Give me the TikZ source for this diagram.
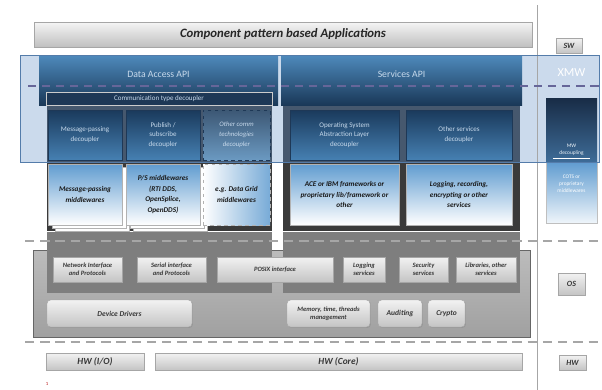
\documentclass[tikz,border=0pt]{standalone}
\usepackage{fontspec}
\setmainfont{Carlito}
\usetikzlibrary{shadows}
\definecolor{bandblue}{RGB}{203,218,236}
\definecolor{bandline}{RGB}{84,124,170}
\definecolor{hdrtop}{RGB}{78,138,188}
\definecolor{hdrbot}{RGB}{26,56,88}
\definecolor{commbar}{RGB}{30,56,86}
\definecolor{decdark}{RGB}{26,58,92}
\definecolor{declight}{RGB}{70,128,178}
\definecolor{dectext}{RGB}{200,218,236}
\definecolor{mwblue}{RGB}{96,156,208}
\definecolor{slate}{RGB}{70,88,110}
\definecolor{darkframe}{RGB}{58,58,58}
\definecolor{column}{RGB}{126,126,126}
\definecolor{ostop}{RGB}{188,188,188}
\definecolor{osbot}{RGB}{160,160,160}
\definecolor{boxtop}{RGB}{242,242,242}
\definecolor{boxbot}{RGB}{196,196,196}
\definecolor{boxtext}{RGB}{55,55,55}
\definecolor{dashgrey}{RGB}{166,166,166}
\definecolor{mwtop}{RGB}{24,44,70}
\definecolor{mwmid}{RGB}{62,108,152}
\begin{document}
\begin{tikzpicture}[x=0.03cm,y=-0.03cm,
  wh/.style 2 args={minimum width=#1*0.03cm,minimum height=#2*0.03cm}]
\tikzstyle{greybox}=[draw=gray!70,top color=boxtop,bottom color=boxbot,inner sep=1pt,outer sep=0pt,align=center,
  drop shadow={opacity=0.35,shadow xshift=0.8pt,shadow yshift=-0.8pt},
  text=boxtext,font=\fontsize{5.6}{6.8}\selectfont\bfseries\itshape]
\tikzstyle{roundbox}=[greybox,rounded corners=3pt]
\tikzstyle{hwbox}=[greybox,font=\fontsize{8}{9}\selectfont\bfseries\itshape]
\tikzstyle{tagbox}=[greybox,font=\fontsize{6.8}{8}\selectfont\bfseries\itshape]
\tikzstyle{hdr}=[top color=hdrtop,bottom color=hdrbot,inner sep=0pt,outer sep=0pt]
\tikzstyle{hdrtext}=[text=dectext,font=\fontsize{8.3}{10}\selectfont]
\tikzstyle{dec}=[draw=commbar,line width=0.4pt,top color=decdark,bottom color=declight,inner sep=1pt,outer sep=0pt,
  align=center,text=dectext,font=\fontsize{6}{8.4}\selectfont]
\tikzstyle{mw}=[draw=gray!60,top color=mwblue,bottom color=white,inner sep=1pt,outer sep=0pt,
  align=center,text=black!90,font=\fontsize{6.2}{9}\selectfont\bfseries\itshape]
\tikzstyle{stack}=[draw=gray!60,fill=white,inner sep=0pt]
\tikzstyle{layerline}=[dashgrey,line width=1.6pt,dash pattern=on 8pt off 5pt]
\def\xr{571.5}
\useasboundingbox (0,0) rectangle (602,390);
% xmw band and separator
\fill[bandblue] (20,55) rectangle (599,162);
\draw[gray!70,line width=0.8pt] (537,5) -- (537,390);
% os layer
\draw[gray!80!black,line width=0.5pt,top color=ostop,bottom color=osbot] (33,250) rectangle (530,337);
\fill[column] (47,232) rectangle (272,293);
\fill[column] (283,232) rectangle (520,293);
\fill[slate] (47,105) rectangle (272,162);
\fill[darkframe] (47,162) rectangle (272,231);
\fill[slate] (283,105) rectangle (520,162);
\fill[darkframe] (283,162) rectangle (520,231);
% api headers
\draw (158.5,80) node[hdr,wh={239}{50}] (datahdr) {};
\draw (401.5,80) node[hdr,wh={241}{50}] (srvhdr) {};
\draw (158.5,74) node[hdrtext] (datatitle) {Data Access API};
\draw (401.5,74) node[hdrtext] (srvtitle) {Services API};
\draw (159,98.5) node[draw=gray!40,line width=0.4pt,fill=commbar,wh={226}{13},inner sep=0pt,
  text=dectext,font=\fontsize{6}{7}\selectfont] (commdec) {Communication type decoupler};
% decouplers
\draw (85,135) node[dec,wh={74}{50}] (msgdec) {Message-passing\\decoupler};
\draw (163,135) node[dec,wh={74}{50}] (psdec) {Publish /\\subscribe\\decoupler};
\draw (236.5,135) node[dec,wh={67}{50},dashed,top color=decdark!85!white,bottom color=declight!80!white,
  font=\fontsize{5.8}{8.4}\selectfont\itshape] (othdec) {Other comm\\technologies\\decoupler};
\draw (344.5,135) node[dec,wh={109}{50}] (osaldec) {Operating System\\Abstraction Layer\\decoupler};
\draw (459,135) node[dec,wh={106}{50}] (srvdec) {Other services\\decoupler};
% middlewares
\draw (92,200.5) node[stack,wh={74}{61}] (msgstack2) {};
\draw (89,197.5) node[stack,wh={74}{61}] (msgstack1) {};
\draw (170,200.5) node[stack,wh={74}{61}] (psstack2) {};
\draw (167,197.5) node[stack,wh={74}{61}] (psstack1) {};
\draw (85,194.5) node[mw,wh={74}{61}] (msgmw) {Message-passing\\middlewares};
\draw (163,194.5) node[mw,wh={74}{61}] (psmw) {P/S middlewares\\(RTI DDS,\\OpenSplice,\\OpenDDS)};
\draw (236.5,194.5) node[mw,wh={67}{61},dashed,top color=white,bottom color=white,
  left color=white,right color=mwblue!85] (othmw) {e.g. Data Grid\\middlewares};
\draw (344.5,194.5) node[mw,wh={109}{61}] (osalmw) {ACE or IBM frameworks or\\proprietary lib/framework or\\other};
\draw (459,194.5) node[mw,wh={106}{61}] (srvmw) {Logging, recording,\\encrypting or other\\services};
% os services
\draw (87.5,269.5) node[greybox,wh={69}{25}] (netif) {Network Interface\\and Protocols};
\draw (171.5,269.5) node[greybox,wh={69}{25}] (serif) {Serial interface\\and Protocols};
\draw (275,269.5) node[greybox,wh={116}{25}] (posix) {POSIX interface};
\draw (364,269.5) node[greybox,wh={42}{25}] (logsrv) {Logging\\services};
\draw (423.5,269.5) node[greybox,wh={49}{25}] (secsrv) {Security\\services};
\draw (486,269.5) node[greybox,wh={60}{25}] (libsrv) {Libraries, other\\services};
\draw (119.5,313.5) node[roundbox,wh={145}{27},font=\fontsize{6.4}{7.6}\selectfont\bfseries\itshape] (drivers) {Device Drivers};
\draw (328.5,313.5) node[roundbox,wh={83}{27}] (memory) {Memory, time, threads\\management};
\draw (400,313.5) node[roundbox,wh={44}{27},font=\fontsize{6.4}{7.6}\selectfont\bfseries\itshape] (audit) {Auditing};
\draw (446.5,313.5) node[roundbox,wh={37}{27},font=\fontsize{6.4}{7.6}\selectfont\bfseries\itshape] (crypto) {Crypto};
% hardware
\draw (95,361.5) node[hwbox,wh={98}{17}] (hwio) {HW (I/O)};
\draw (338.5,361.5) node[hwbox,wh={367}{17}] (hwcore) {HW (Core)};
% applications
\draw (283,34.5) node[greybox,wh={498}{25},top color=white!96!black,bottom color=gray!50,
  font=\fontsize{10.9}{12}\selectfont\bfseries\itshape,text=black!85] (apps) {Component pattern based Applications};
% layer tags
\draw (569,45.5) node[tagbox,wh={26}{15}] (swtag) {SW};
\draw (\xr,284) node[tagbox,wh={27}{22}] (ostag) {OS};
\draw (572.5,362.5) node[tagbox,wh={27}{15}] (hwtag) {HW};
% mw decoupling column
\draw (\xr,130) node[top color=mwtop,bottom color=mwmid,wh={51}{64},inner sep=0pt] (mwdec) {};
\draw (\xr,192.5) node[draw=gray!50,line width=0.4pt,top color=mwblue,bottom color=white!90!mwblue,wh={51}{61},inner sep=0pt] (cots) {};
\draw (\xr,150) node[align=center,text=white!90!mwblue,font=\fontsize{4.6}{6}\selectfont] (mwtext) {MW\\decoupling};
\draw[white,line width=0.5pt] (553,158) -- (590,158);
\draw (\xr,184) node[align=center,text=white,font=\fontsize{4.6}{6}\selectfont] (cotstext) {COTS or\\proprietary\\middlewares};
\draw (\xr,73) node[text=white,font=\fontsize{10.5}{12}\selectfont] (xmw) {XMW};
% band border and layer lines
\draw[bandline,line width=0.8pt] (20,55) rectangle (599,162);
\draw[gray!80!blue,line width=1.2pt,dash pattern=on 7pt off 5pt] (28,86) -- (600,86);
\draw[layerline] (25,241) -- (600,241);
\draw[layerline] (25,342) -- (600,342);
\draw (47,384) node[text=red!70!black,font=\fontsize{4}{5}\selectfont] (pagenum) {1};
\end{tikzpicture}
\end{document}
